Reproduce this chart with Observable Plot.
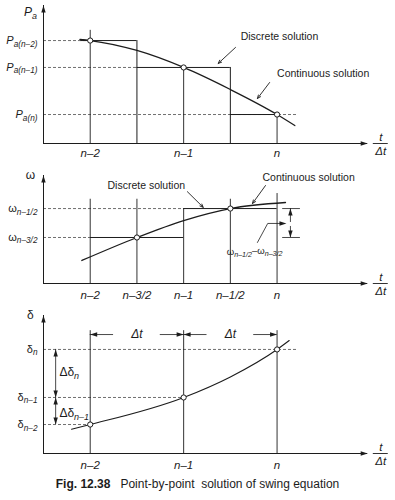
<!DOCTYPE html>
<html><head><meta charset="utf-8">
<script src="https://cdn.jsdelivr.net/npm/d3@7"></script>
<script src="https://cdn.jsdelivr.net/npm/@observablehq/plot@0.6"></script>
<style>
html,body{margin:0;padding:0;background:#fff;}
body{width:395px;height:500px;overflow:hidden;font-family:'Liberation Sans',Arial,Helvetica,sans-serif;}
#chart svg{display:block;}
#caption{font-size:12px;line-height:14px;text-align:center;color:#1c1c1c;white-space:pre;}
</style></head>
<body>
<div id="chart"></div>
<div id="caption"><b>Fig. 12.38</b>   Point-by-point  solution of swing equation</div>
<script>
// ---------- data (t measured in steps Δt relative to n) ----------
const xDomain = [-2.5, 1.0];

// Panel 1: accelerating power Pa
const paTickT = [-2, -1, 0];
const paTickLabels = ["n–2", "n–1", "n"];
const paLevels = [0.746, 0.551, 0.210];
const paLabels = ["P_{a(n–2)}", "P_{a(n–1)}", "P_{a(n)}"];
const paGuideEnd = [-2, -1.5, 0.22];
const paVertTop = [0.82, 0.551, 0.210];
const paStepEdges = [-2.1, -1.5, -0.5, 0];
const paCurveT = [-2.11, -2, -1.5, -1, -0.5, 0, 0.19];
const paCurveV = [0.754, 0.746, 0.674, 0.551, 0.391, 0.210, 0.130];

// Panel 2: speed ω
const wTickT = [-2, -1.5, -1, -0.5, 0];
const wTickLabels = ["n–2", "n–3/2", "n–1", "n–1/2", "n"];
const wVertTop = [0.78, 0.78, 0.694, 0.78, 0.833];
const wLevels = [0.426, 0.694];
const wLabels = ["ω_{n–3/2}", "ω_{n–1/2}"];
const wGuideEnd = [-2, -1];
const wStepEdges = [-2, -1, 0];
const wPointT = [-1.5, -0.5];
const wCurveT = [-2.09, -1.5, -1, -0.5, 0.09];
const wCurveV = [0.213, 0.426, 0.583, 0.694, 0.750];

// Panel 3: rotor angle δ
const dTickT = [-2, -1, 0];
const dTickLabels = ["n–2", "n–1", "n"];
const dLevels = [0.210, 0.406, 0.754];
const dLabels = ["δ_{n–2}", "δ_{n–1}", "δ_{n}"];
const dGuideEnd = [-2, -1, 0.22];
const dCurveT = [-2.2, -2, -1, -0.5, 0, 0.13];
const dCurveV = [0.176, 0.210, 0.406, 0.555, 0.754, 0.819];

// ---------- helpers ----------
const INK = "#1c1c1c";
const GUIDE = "#4a4a4a";
const FONT = "'Liberation Sans', Arial, Helvetica, sans-serif";
const X0 = xDomain[0];
const pts = (T, V) => T.map((t, i) => ({t, v: V[i]}));

const headSymbol = {draw(ctx) { ctx.moveTo(0, 0); ctx.lineTo(-2.2, 7); ctx.lineTo(2.2, 7); ctx.closePath(); }};
const heads = rows => Plot.dot(rows, {x: "x", y: "y", rotate: "rot", symbol: headSymbol, fill: INK, stroke: "none", r: 3});
const guides = (levels, ends) => Plot.ruleY(levels, {x1: X0, x2: ends, stroke: GUIDE, strokeWidth: 0.8, strokeDasharray: "3,2"});
const leader = rows => Plot.arrow(rows, {x1: "x1", y1: "y1", x2: "x2", y2: "y2", stroke: INK, strokeWidth: 0.9, headLength: 6, headAngle: 45});
const notes = (rows, size) => Plot.text(rows, {x: "x", y: "y", text: "label", textAnchor: "start", fontSize: size, fill: INK});

function frame(p) {
  const xl = new Map(p.xTicks.map((t, i) => [t, p.xLabels[i]]));
  const yl = new Map(p.yTicks.map((t, i) => [t, p.yLabels[i]]));
  return [
    Plot.ruleX([X0], {y1: 0, y2: 1, stroke: INK, strokeWidth: 1}),
    Plot.ruleY([0], {x1: X0, x2: 0.97, stroke: INK, strokeWidth: 1}),
    heads([{x: X0, y: 1, rot: 0}, {x: 0.97, y: 0, rot: 90}]),
    Plot.axisX(p.xTicks, {tickSize: 0, tickPadding: p.xPad, tickFormat: d => xl.get(d), label: null, fontStyle: "italic", fontSize: 11.5}),
    Plot.axisY(p.yTicks, {tickSize: 0, tickPadding: 6, tickFormat: d => yl.get(d), label: null, fontStyle: p.yItalic ? "italic" : "normal", fontSize: 11}),
    Plot.text(["t"], {x: 1.11, y: 0, dy: -6, text: d => d, fontStyle: "italic", fontSize: 11.5, fill: INK}),
    Plot.text(["Δt"], {x: 1.11, y: 0, dy: 8, text: d => d, fontStyle: "italic", fontSize: 11.5, fill: INK}),
    Plot.ruleY([0], {x1: 1.03, x2: 1.19, stroke: INK, strokeWidth: 0.9}),
    Plot.text([p.yTitle], {x: -2.64, y: p.yTitleAt, text: d => d, fontStyle: p.yItalic ? "italic" : "normal", fontSize: 12, fill: INK})
  ];
}

function panel(height, marginTop, marginBottom, marks) {
  return Plot.plot({
    width: 395, height, marginLeft: 43, marginRight: 25, marginTop, marginBottom,
    x: {domain: xDomain}, y: {domain: [0, 1]},
    style: {fontFamily: FONT, fontSize: "11px", color: INK, background: "white", overflow: "visible"},
    marks
  });
}

function richText(node) {
  const s = node.textContent;
  if (!s.includes("_{")) return;
  node.textContent = "";
  const re = /_\{([^}]*)\}/g;
  let last = 0, m, shifted = false;
  const add = (txt, attrs) => {
    const t = document.createElementNS("http://www.w3.org/2000/svg", "tspan");
    t.textContent = txt;
    for (const k in attrs) t.setAttribute(k, attrs[k]);
    node.appendChild(t);
  };
  while ((m = re.exec(s))) {
    const base = s.slice(last, m.index);
    if (base) { add(base, shifted ? {dy: "-0.3em"} : {}); shifted = false; }
    add(m[1], {"font-size": "0.75em", "font-style": "italic", dy: shifted ? "0" : "0.3em"});
    shifted = true;
    last = re.lastIndex;
  }
  const rest = s.slice(last);
  if (rest) add(rest, shifted ? {dy: "-0.3em"} : {});
}

// ---------- panel 1 ----------
const p1 = panel(163, 5, 20, [
  guides(paLevels, paGuideEnd),
  Plot.ruleX(paTickT, {y1: 0, y2: paVertTop, stroke: INK, strokeWidth: 0.9}),
  Plot.ruleY(paLevels, {x1: paStepEdges.slice(0, 3), x2: paStepEdges.slice(1), stroke: INK, strokeWidth: 1}),
  Plot.ruleX(paStepEdges.slice(1, 3), {y1: 0, y2: paLevels.slice(0, 2), stroke: INK, strokeWidth: 1}),
  Plot.line(pts(paCurveT, paCurveV), {x: "t", y: "v", curve: "monotone-x", stroke: INK, strokeWidth: 1.3}),
  Plot.dot(paTickT, {x: d => d, y: paLevels, r: 2.6, fill: "white", stroke: INK, strokeWidth: 1}),
  notes([{x: -0.39, y: 0.775, label: "Discrete solution"}, {x: 0.0, y: 0.507, label: "Continuous solution"}], 10.5),
  leader([{x1: -0.445, y1: 0.696, x2: -0.63, y2: 0.58}, {x1: -0.08, y1: 0.442, x2: -0.21, y2: 0.326}]),
  ...frame({xTicks: paTickT, xLabels: paTickLabels, xPad: 5.5, yTicks: paLevels, yLabels: paLabels, yItalic: true, yTitle: "P_{a}", yTitleAt: 0.95})
]);

// ---------- panel 2 ----------
const p2 = panel(142, 12, 22, [
  guides(wLevels, wGuideEnd),
  Plot.ruleX(wTickT, {y1: 0, y2: wVertTop, stroke: INK, strokeWidth: 0.9}),
  Plot.ruleY(wLevels, {x1: wStepEdges.slice(0, 2), x2: wStepEdges.slice(1), stroke: INK, strokeWidth: 1}),
  Plot.ruleY(wLevels, {x1: 0.06, x2: 0.25, stroke: INK, strokeWidth: 0.8}),
  Plot.ruleX([0.143], {y1: wLevels[1], y2: 0.565, stroke: INK, strokeWidth: 0.8}),
  Plot.ruleX([0.143], {y1: wLevels[0], y2: 0.528, stroke: INK, strokeWidth: 0.8}),
  heads([{x: 0.143, y: wLevels[1], rot: 0}, {x: 0.143, y: wLevels[0], rot: 180}, {x: 0.10, y: 0.556, rot: 90}]),
  Plot.line([{t: -0.21, v: 0.38}, {t: -0.10, v: 0.556}, {t: 0.04, v: 0.556}], {x: "t", y: "v", stroke: INK, strokeWidth: 0.8}),
  Plot.text(["ω_{n–1/2}–ω_{n–3/2}"], {x: -0.24, y: 0.296, text: d => d, fontSize: 9.5, fill: INK}),
  Plot.line(pts(wCurveT, wCurveV), {x: "t", y: "v", curve: "monotone-x", stroke: INK, strokeWidth: 1.3}),
  Plot.dot(wPointT, {x: d => d, y: wLevels, r: 2.6, fill: "white", stroke: INK, strokeWidth: 1}),
  notes([{x: -1.815, y: 0.907, label: "Discrete solution"}, {x: -0.156, y: 0.981, label: "Continuous solution"}], 10.5),
  leader([{x1: -0.96, y1: 0.85, x2: -0.79, y2: 0.705}, {x1: -0.124, y1: 0.907, x2: -0.263, y2: 0.741}]),
  ...frame({xTicks: wTickT, xLabels: wTickLabels, xPad: 7.5, yTicks: wLevels, yLabels: wLabels, yItalic: false, yTitle: "ω", yTitleAt: 1.0})
]);

// ---------- panel 3 ----------
const p3 = panel(172, 10, 24, [
  guides(dLevels, dGuideEnd),
  Plot.ruleX(dTickT, {y1: 0, y2: 0.89, stroke: INK, strokeWidth: 0.9}),
  // Δt dimensions between step lines
  Plot.ruleY([0.862, 0.862, 0.862, 0.862], {x1: [-1.75, -1.25, -0.75, -0.25], x2: [-2, -1, -1, 0], stroke: INK, strokeWidth: 0.8}),
  heads([{x: -2, y: 0.862, rot: 270}, {x: -1, y: 0.862, rot: 90}, {x: -1, y: 0.862, rot: 270}, {x: 0, y: 0.862, rot: 90}]),
  Plot.text(["Δt", "Δt"], {x: [-1.5, -0.5], y: 0.862, text: d => d, fontStyle: "italic", fontSize: 12, fill: INK}),
  // Δδ dimensions
  Plot.ruleX([-2.37, -2.37], {y1: [dLevels[2], dLevels[1]], y2: [dLevels[1], dLevels[0]], stroke: INK, strokeWidth: 0.8}),
  heads([{x: -2.37, y: dLevels[2], rot: 0}, {x: -2.37, y: dLevels[1], rot: 180}, {x: -2.37, y: dLevels[1], rot: 0}, {x: -2.37, y: dLevels[0], rot: 180}]),
  notes([{x: -2.33, y: 0.587, label: "Δδ_{n}"}, {x: -2.33, y: 0.29, label: "Δδ_{n–1}"}], 12),
  Plot.line(pts(dCurveT, dCurveV), {x: "t", y: "v", curve: "monotone-x", stroke: INK, strokeWidth: 1.1}),
  Plot.dot(dTickT, {x: d => d, y: dLevels, r: 2.6, fill: "white", stroke: INK, strokeWidth: 1}),
  ...frame({xTicks: dTickT, xLabels: dTickLabels, xPad: 7.5, yTicks: dLevels, yLabels: dLabels, yItalic: false, yTitle: "δ", yTitleAt: 1.0})
]);

const chart = document.getElementById("chart");
for (const svg of [p1, p2, p3]) {
  chart.appendChild(svg);
  svg.querySelectorAll("text").forEach(richText);
}
</script>
</body></html>
